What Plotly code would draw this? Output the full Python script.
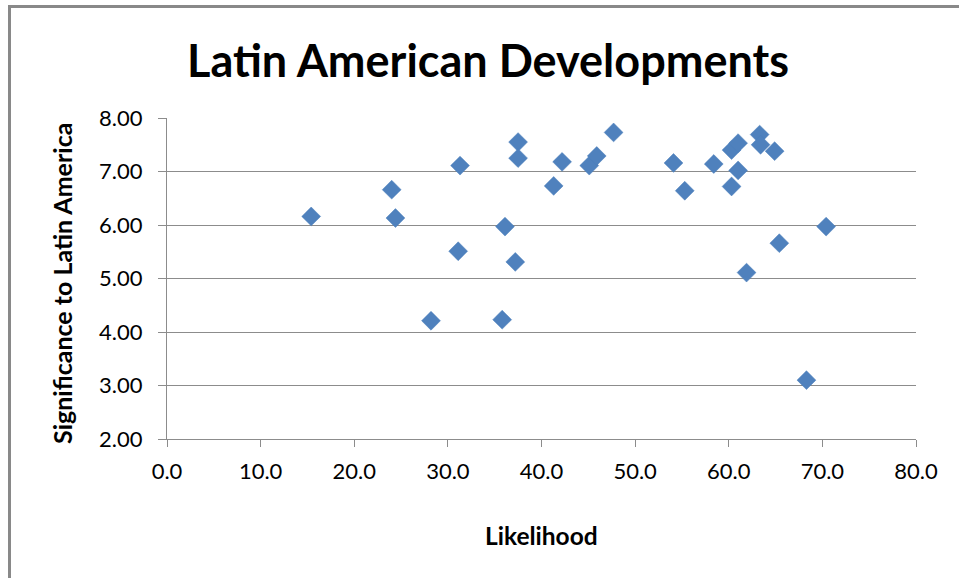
import plotly.graph_objects as go

title_text = "Latin American Developments"
x_title = "Likelihood"
y_title = "Significance to Latin America"

likelihood = [15.4, 24.0, 24.4, 28.2, 31.3, 31.1, 35.8, 36.1, 37.2, 37.5, 37.5,
              41.3, 42.2, 45.1, 45.9, 47.7, 54.1, 55.3, 58.4, 60.3, 61.0, 61.0,
              60.3, 63.3, 63.4, 64.9, 61.9, 65.4, 70.4, 68.3]
significance = [6.16, 6.66, 6.13, 4.21, 7.11, 5.51, 4.23, 5.97, 5.31, 7.55, 7.25,
                6.73, 7.18, 7.11, 7.29, 7.73, 7.16, 6.64, 7.14, 7.40, 7.53, 7.02,
                6.72, 7.69, 7.50, 7.38, 5.11, 5.66, 5.97, 3.10]

W, H = 959, 578
L, R, T, B = 167, 916, 118, 439

fig = go.Figure(go.Scatter(
    x=likelihood, y=significance, mode="markers",
    marker=dict(symbol="diamond", size=14.5, color="#4F81BD",
                line=dict(width=0.5, color="#4A7EBB")),
    showlegend=False, hoverinfo="x+y"))

grid = "#8C8C8C"
font_family = "Lato, Open Sans, sans-serif"
fig.update_xaxes(range=[0, 80], dtick=10, tick0=0, tickformat=".1f",
                 showgrid=False, zeroline=False, showline=True, linecolor=grid,
                 linewidth=1, ticks="outside", ticklen=7, tickcolor=grid,
                 ticklabelstandoff=6,
                 tickfont=dict(family=font_family, size=22, color="#000000"),
                 fixedrange=True)
fig.update_yaxes(range=[2, 8], dtick=1, tick0=2, tickformat=".2f",
                 showgrid=True, gridcolor=grid, gridwidth=1, zeroline=False,
                 showline=True, linecolor=grid, linewidth=1, ticks="outside",
                 ticklen=8, tickcolor=grid, ticklabelstandoff=11,
                 tickfont=dict(family=font_family, size=22, color="#000000"),
                 fixedrange=True)

def px_to_paper_x(px):
    return (px - L) / (R - L)

def px_to_paper_y(py):
    return (B - py) / (B - T)

annotations = [
    dict(text="<b>" + title_text + "</b>", xref="paper", yref="paper",
         x=px_to_paper_x(488), y=px_to_paper_y(60), xanchor="center", yanchor="middle",
         showarrow=False, font=dict(family=font_family, size=45, color="#000000")),
    dict(text="<b>" + x_title + "</b>", xref="paper", yref="paper",
         x=px_to_paper_x(541), y=px_to_paper_y(535), xanchor="center", yanchor="middle",
         showarrow=False, font=dict(family=font_family, size=24.5, color="#000000")),
    dict(text="<b>" + y_title + "</b>", xref="paper", yref="paper",
         x=px_to_paper_x(62), y=px_to_paper_y(284), xanchor="center", yanchor="middle",
         textangle=-90, showarrow=False,
         font=dict(family=font_family, size=25, color="#000000")),
]

shapes = [
    dict(type="line", xref="paper", yref="paper",
         x0=px_to_paper_x(9.5), x1=px_to_paper_x(9.5),
         y0=px_to_paper_y(5), y1=px_to_paper_y(580),
         line=dict(color="#898989", width=3)),
    dict(type="line", xref="paper", yref="paper",
         x0=px_to_paper_x(8), x1=px_to_paper_x(962),
         y0=px_to_paper_y(6.5), y1=px_to_paper_y(6.5),
         line=dict(color="#898989", width=3)),
]

fig.update_layout(
    width=W, height=H,
    margin=dict(l=L, r=W - R, t=T, b=H - B, pad=0),
    paper_bgcolor="#FFFFFF", plot_bgcolor="#FFFFFF",
    annotations=annotations, shapes=shapes,
    showlegend=False,
)

fig.write_html("out.html", config={"displayModeBar": False},
               post_script="document.body.style.margin='0';document.body.style.overflow='hidden';")
